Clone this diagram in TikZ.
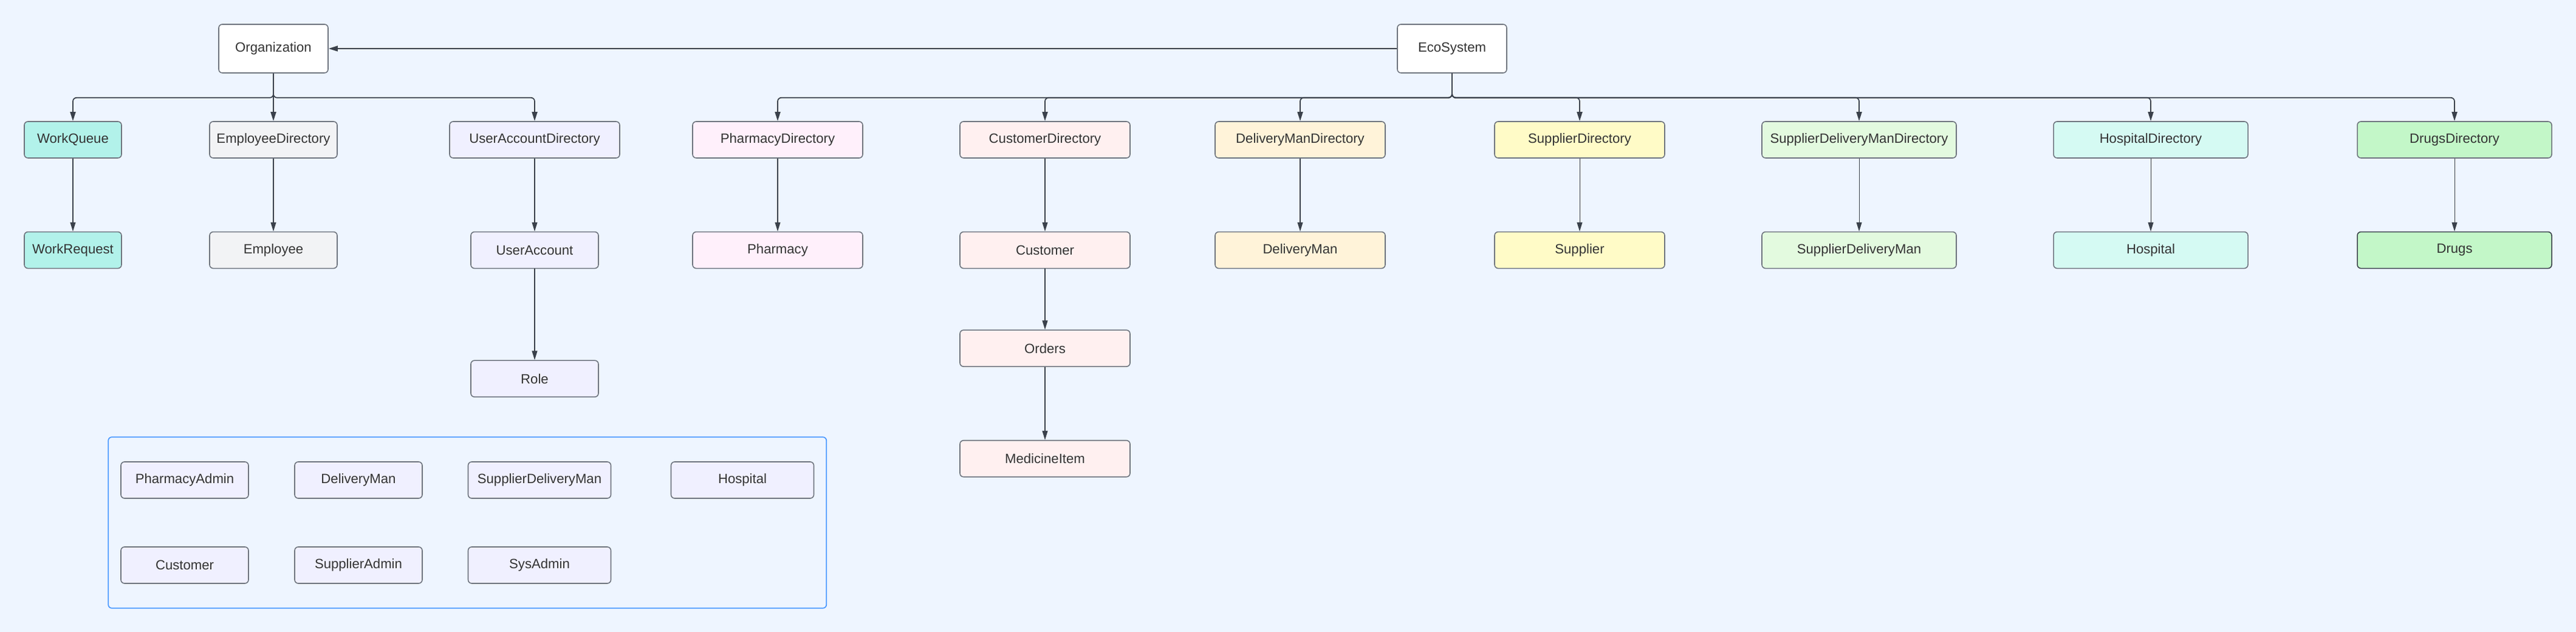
\documentclass[tikz,border=0pt]{standalone}
\usepackage{fontspec}
\setmainfont{Liberation Sans}
\usepackage{tikz}
\usetikzlibrary{arrows.meta, positioning, fit, calc}
\definecolor{canvasblue}{RGB}{238,245,255}
\definecolor{edgegray}{RGB}{110,116,126}
\definecolor{linkgray}{RGB}{58,65,75}
\definecolor{textgray}{RGB}{51,51,51}
\definecolor{groupblue}{RGB}{76,154,255}
\definecolor{workfill}{RGB}{178,242,234}
\definecolor{employeefill}{RGB}{242,243,245}
\definecolor{accountfill}{RGB}{240,240,255}
\definecolor{pharmacyfill}{RGB}{255,240,251}
\definecolor{customerfill}{RGB}{255,240,240}
\definecolor{deliveryfill}{RGB}{255,243,217}
\definecolor{supplierfill}{RGB}{255,251,199}
\definecolor{sdmfill}{RGB}{227,250,223}
\definecolor{hospitalfill}{RGB}{213,250,243}
\definecolor{drugsfill}{RGB}{195,247,200}

\begin{document}
\begin{tikzpicture}[
    entity/.style={
        rectangle, rounded corners=0.6mm,
        minimum height=0.6cm, inner sep=0pt,
        text centered,
        draw=edgegray, line width=0.45pt, text=textgray,
        font=\fontsize{6.3}{7.5}\selectfont
    },
    root/.style={entity, fill=white, minimum width=1.8cm, minimum height=0.8cm},
    small/.style={entity, minimum width=2.1cm},
    wide/.style={entity, minimum width=2.8cm},
    wider/.style={entity, minimum width=3.2cm},
    rolebox/.style={entity, fill=accountfill, minimum width=2.1cm},
    link/.style={-{Triangle[length=1.5mm, width=0.9mm]}, line width=0.3pt, color=linkgray},
    bus/.style={link, line width=0.5pt, rounded corners=0.6mm}
]

\fill[canvasblue] (0,0) rectangle (42.4,-10.4);
\useasboundingbox (0,0) rectangle (42.4,-10.4);

% --- roots ---
\node[root] (org) at (4.5,-0.8)  {Organization};
\node[root] (eco) at (23.9,-0.8) {EcoSystem};

% --- organization side ---
\node[entity, fill=workfill, minimum width=1.6cm] (workqueue) at (1.2,-2.3) {WorkQueue};
\node[small, fill=employeefill] (empdir) at (4.5,-2.3)  {EmployeeDirectory};
\node[wide, fill=accountfill]   (uadir)  at (8.8,-2.3)  {UserAccountDirectory};

\node[entity, fill=workfill, minimum width=1.6cm, below=1.2cm of workqueue] (workreq) {WorkRequest};
\node[small, fill=employeefill, below=1.2cm of empdir] (employee) {Employee};
\node[small, fill=accountfill, below=1.2cm of uadir]   (useracc)  {UserAccount};
\node[small, fill=accountfill, below=1.5cm of useracc] (role)     {Role};

% --- ecosystem side ---
\node[wide, fill=pharmacyfill]  (phdir)   at (12.8,-2.3) {PharmacyDirectory};
\node[wide, fill=customerfill]  (custdir) at (17.2,-2.3) {CustomerDirectory};
\node[wide, fill=deliveryfill]  (dmdir)   at (21.4,-2.3) {DeliveryManDirectory};
\node[wide, fill=supplierfill]  (supdir)  at (26.0,-2.3) {SupplierDirectory};
\node[wider, fill=sdmfill]      (sdmdir)  at (30.6,-2.3) {SupplierDeliveryManDirectory};
\node[wider, fill=hospitalfill] (hospdir) at (35.4,-2.3) {HospitalDirectory};
\node[wider, fill=drugsfill]    (drugdir) at (40.4,-2.3) {DrugsDirectory};

\node[wide, fill=pharmacyfill, below=1.2cm of phdir]    (pharmacy) {Pharmacy};
\node[wide, fill=customerfill, below=1.2cm of custdir]  (customer) {Customer};
\node[wide, fill=customerfill, below=1.0cm of customer] (orders)   {Orders};
\node[wide, fill=customerfill, below=1.2cm of orders]   (medicine) {MedicineItem};
\node[wide, fill=deliveryfill, below=1.2cm of dmdir]    (deliveryman) {DeliveryMan};
\node[wide, fill=supplierfill, below=1.2cm of supdir]   (supplier) {Supplier};
\node[wider, fill=sdmfill, below=1.2cm of sdmdir]       (sdm)      {SupplierDeliveryMan};
\node[wider, fill=hospitalfill, below=1.2cm of hospdir] (hospital) {Hospital};
\node[wider, fill=drugsfill, draw=linkgray, below=1.2cm of drugdir] (drugs) {Drugs};

% --- role group ---
\node[rolebox] (rPharmAdmin) at (3.04,-7.9)  {PharmacyAdmin};
\node[rolebox] (rDelivery)   at (5.9,-7.9)   {DeliveryMan};
\node[rolebox, minimum width=2.35cm] (rSupDelivery) at (8.88,-7.9) {SupplierDeliveryMan};
\node[rolebox, minimum width=2.35cm] (rHospital)    at (12.22,-7.9) {Hospital};
\node[rolebox] (rCustomer)   at (3.04,-9.3)  {Customer};
\node[rolebox] (rSupAdmin)   at (5.9,-9.3)   {SupplierAdmin};
\node[rolebox, minimum width=2.35cm] (rSysAdmin) at (8.88,-9.3) {SysAdmin};
\node[draw=groupblue, line width=0.5pt, rounded corners=0.6mm, inner xsep=0.2cm, inner ysep=0.4cm,
      fit=(rPharmAdmin) (rHospital) (rCustomer)] (rolegroup) {};

% --- connectors ---
\draw[link, line width=0.5pt] (eco.west) -- (org.east);

\foreach \child in {workqueue, empdir, uadir}
    \draw[bus] (org.south) -- ++(0,-0.4) -| (\child.north);
\foreach \child in {phdir, custdir, dmdir, supdir, sdmdir, hospdir, drugdir}
    \draw[bus] (eco.south) -- ++(0,-0.4) -| (\child.north);

\draw[link] (workqueue) -- (workreq);
\draw[link] (empdir) -- (employee);
\draw[link] (uadir) -- (useracc);
\draw[link] (useracc) -- (role);
\draw[link] (phdir) -- (pharmacy);
\draw[link] (custdir) -- (customer);
\draw[link] (customer) -- (orders);
\draw[link] (orders) -- (medicine);
\draw[link] (dmdir) -- (deliveryman);
\draw[link] (supdir) -- (supplier);
\draw[link] (sdmdir) -- (sdm);
\draw[link] (hospdir) -- (hospital);
\draw[link] (drugdir) -- (drugs);

\end{tikzpicture}
\end{document}
